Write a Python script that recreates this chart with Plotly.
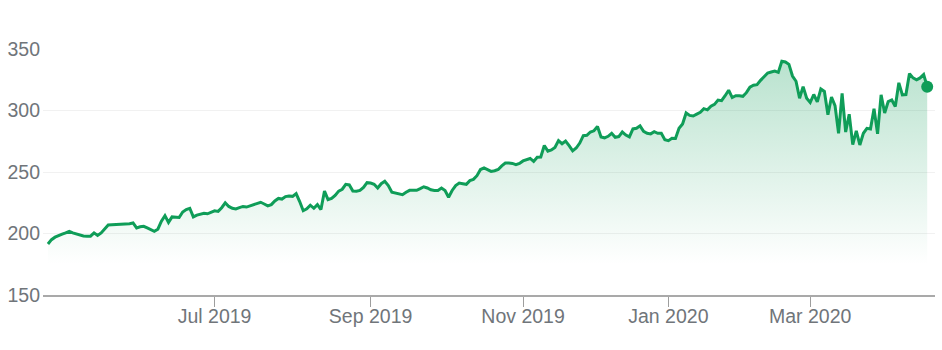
import pandas as pd
import plotly.graph_objects as go

# Trading calendar (NYSE holidays in range)
start_date = "2019-04-24"
end_date = "2020-04-17"
holidays = ["2019-05-27", "2019-07-04", "2019-09-02", "2019-11-28", "2019-12-25",
            "2020-01-01", "2020-01-20", "2020-02-17", "2020-04-10"]

prices = [
    191.5, 195, 197, 198.5, 199.5, 200.5, 201.8, 200.5, 199.5, 199,
    198, 197.8, 197.8, 200.5, 198.4, 200.5, 203.5, 207, 207.2, 207.3,
    207.5, 207.2, 207.6, 208, 208.6, 204.5, 205.5, 205.8, 204.5, 203,
    201.8, 203.5, 210, 214.5, 209, 213.5, 213.5, 213, 217.5, 219.5,
    220.5, 213.5, 215, 215.5, 216.5, 216, 217, 218.5, 218, 221,
    225, 222, 220.5, 220, 221, 222, 221.5, 222.5, 224, 225,
    225.4, 224, 222.5, 223.5, 226.5, 228.5, 228, 230, 230.5, 230.2,
    232.5, 226, 218.5, 220, 223, 220.5, 223.5, 219.5, 234.5, 227.6,
    228.5, 231, 234.5, 236, 240, 239.5, 234.5, 234.3, 235, 237.5,
    241.3, 241, 240, 237, 240.5, 242.4, 239, 233.5, 232.7, 232.2,
    231.5, 233.5, 235.1, 235.1, 235.1, 236.5, 238, 237, 235.5, 235,
    235, 237, 235, 229.5, 235, 239, 241, 240.5, 240, 243,
    244, 247, 252, 253.3, 252, 250.5, 251, 252, 255, 257.3,
    257.3, 257, 256, 257, 259, 260, 261, 258.6, 262, 262.2,
    271.5, 267, 268, 270, 275.5, 273, 275.2, 271.5, 267.2, 269.5,
    273.5, 279.5, 279.8, 282.5, 283.5, 287, 278.5, 277.8, 279, 281.5,
    278.2, 278.8, 282.5, 280, 278.5, 285, 285.5, 287.5, 283, 281.5,
    281, 282.8, 281.5, 281.5, 276.3, 275.5, 277.5, 277.3, 285.5, 289,
    298, 296, 295.5, 297, 298.5, 301.5, 300.5, 303.5, 305, 308.5,
    308, 312, 316.5, 310.5, 312, 311.9, 311.5, 314.5, 319, 320.5,
    321, 324.5, 327.5, 330.5, 331.3, 332, 331, 340, 339.5, 337.5,
    328, 323.8, 310, 319.4, 310, 306.5, 313, 307, 317.5, 315.5,
    296.5, 311, 304, 281.5, 314, 282.5, 297, 272.2, 283.5, 272,
    281.5, 285.5, 285, 301.5, 281, 312.7, 298, 307.3, 308.6, 303.2,
    322.5, 312.7, 313, 330, 326.5, 325, 326.5, 329.3, 319.4,
]

tick_months = ["2019-07", "2019-09", "2019-11", "2020-01", "2020-03"]
tick_labels = ["Jul 2019", "Sep 2019", "Nov 2019", "Jan 2020", "Mar 2020"]
y_ticks = [150, 200, 250, 300, 350]

dates = pd.bdate_range(start_date, end_date, freq="C", holidays=holidays)
n = min(len(dates), len(prices))
dates = dates[:n]
prices = prices[:n]
date_str = [d.strftime("%Y-%m-%d") for d in dates]

tickvals = []
for m in tick_months:
    first = [s for s in date_str if s.startswith(m)][0]
    tickvals.append(first)

GREEN = "#0f9d58"
FONT = "Liberation Sans, Arial, sans-serif"
LABEL = "#70757a"

fig = go.Figure()
fig.add_trace(go.Scatter(
    x=date_str, y=prices, mode="lines",
    line=dict(color=GREEN, width=3),
    fill="tozeroy",
    fillgradient=dict(type="vertical", start=175, stop=345,
                      colorscale=[[0, "rgba(15,157,88,0)"], [1, "rgba(15,157,88,0.30)"]]),
    hoverinfo="skip",
))
fig.add_trace(go.Scatter(
    x=[date_str[-1]], y=[prices[-1]], mode="markers",
    marker=dict(color=GREEN, size=12),
    hoverinfo="skip",
))

fig.update_layout(
    width=942, height=350,
    margin=dict(l=38, r=7, t=49, b=55),
    paper_bgcolor="white", plot_bgcolor="white",
    showlegend=False,
    font=dict(family=FONT, size=19.5, color=LABEL),
)
fig.update_xaxes(
    type="category",
    range=[-1.4, len(date_str) - 1 + 2.2],
    tickmode="array", tickvals=tickvals, ticktext=tick_labels,
    ticks="outside", ticklen=10, tickwidth=1, tickcolor="#9e9e9e",
    ticklabelstandoff=-7,
    showline=True, linecolor="#a9a9a9", linewidth=2,
    showgrid=False, zeroline=False,
    tickfont=dict(family=FONT, size=19.5, color=LABEL),
)
fig.update_yaxes(
    range=[150, 350],
    tickmode="array", tickvals=y_ticks,
    showgrid=True, gridcolor="#f1f1f1", gridwidth=1,
    zeroline=False, showline=False, ticks="",
    ticklabelstandoff=2,
    tickfont=dict(family=FONT, size=19.5, color=LABEL),
)

fig.write_html("out.html")
